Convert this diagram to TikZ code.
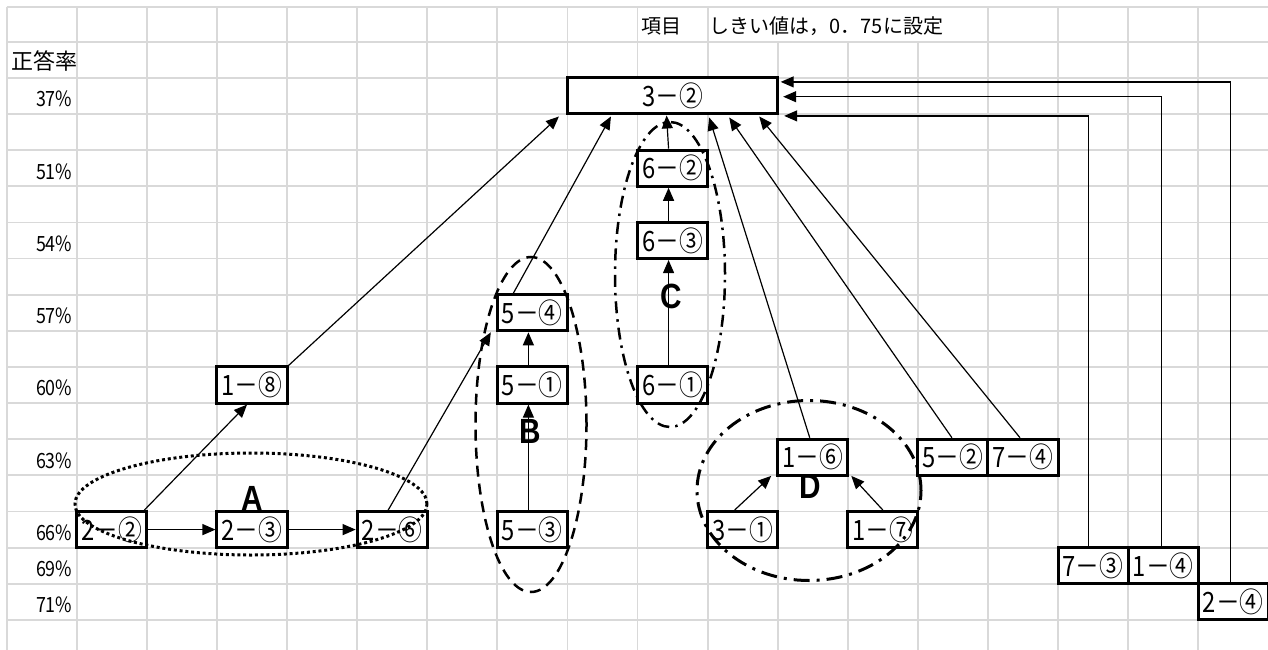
\documentclass[tikz,border=0pt]{standalone}
\usepackage{fontspec}
\usetikzlibrary{arrows.meta}
\newfontfamily\jpbox[FakeStretch=0.85]{Noto Sans CJK JP}
\newfontfamily\jpn{Noto Sans CJK JP}
\newfontfamily\labfont[FakeStretch=0.85]{Liberation Sans}
\definecolor{gridc}{RGB}{217,217,217}
\pgfdeclarelayer{bg}
\pgfdeclarelayer{fg}
\pgfsetlayers{bg,main,fg}
\tikzset{
  cellbox/.style={draw=black, line width=3pt, fill=white, minimum width=70.09pt, minimum height=36.14pt, inner sep=0pt, font=\jpbox\fontsize{28}{28}\selectfont},
  conn/.style={line width=1.2pt, -{Triangle[length=13pt,width=11pt]}},
  pct/.style={anchor=base east, inner sep=0pt, font=\jpbox\fontsize{21}{21}\selectfont},
  grp/.style={inner sep=0pt, font=\labfont\bfseries\fontsize{35}{35}\selectfont},
  gridline/.style={draw=gridc, line width=1.8pt},
  toptext/.style={anchor=west, inner sep=0pt, font=\jpn\fontsize{20}{20}\selectfont},
}
\begin{document}
\begin{tikzpicture}[x=1pt,y=-1pt]
\useasboundingbox (0,0) rectangle (1268,650);
\begin{pgfonlayer}{bg}
\fill[white] (0,0) rectangle (1268,650);
\foreach \k in {0,...,17} { \draw[gridline] (6.7+70.09*\k,7.3) -- (6.7+70.09*\k,650); }
\draw[gridline] (6.7,7.3) -- (1268,7.3);
\foreach \k in {1,...,17} { \draw[gridline] (6.7,5.56+36.14*\k) -- (1268,5.56+36.14*\k); }
\fill[white] (708.6,8.3) rectangle (987,40.7);
\node[toptext] (t1) at (641,26.5) {項目};
\node[toptext] (t2) at (709.5,26.5) {しきい値は，0．75に設定};
\node[anchor=west, inner sep=0pt, font=\jpn\fontsize{22}{22}\selectfont] (hd) at (11,61) {正答率};
\node[pct] (p37) at (72.5,106.78) {37\%};
\node[pct] (p51) at (72.5,179.06) {51\%};
\node[pct] (p54) at (72.5,251.34) {54\%};
\node[pct] (p57) at (72.5,323.62) {57\%};
\node[pct] (p60) at (72.5,395.9) {60\%};
\node[pct] (p63) at (72.5,468.18) {63\%};
\node[pct] (p66) at (72.5,540.46) {66\%};
\node[pct] (p69) at (72.5,576.6) {69\%};
\node[pct] (p71) at (72.5,612.74) {71\%};
\end{pgfonlayer}

% boxes
\node[cellbox, minimum width=210.27pt] (b32) at (672.56,95.91) {3－②};
\node[cellbox] (b18) at (252.02,385.03) {1－⑧};
\node[cellbox] (b22) at (111.84,529.59) {2－②};
\node[cellbox] (b23) at (252.02,529.59) {2－③};
\node[cellbox] (b26) at (392.2,529.59) {2－⑥};
\node[cellbox] (b54) at (532.38,312.75) {5－④};
\node[cellbox] (b51) at (532.38,385.03) {5－①};
\node[cellbox] (b53) at (532.38,529.59) {5－③};
\node[cellbox] (b62) at (672.56,168.19) {6－②};
\node[cellbox] (b63) at (672.56,240.47) {6－③};
\node[cellbox] (b61) at (672.56,385.03) {6－①};
\node[cellbox] (b16) at (812.74,457.31) {1－⑥};
\node[cellbox] (b31) at (742.65,529.59) {3－①};
\node[cellbox] (b17) at (882.83,529.59) {1－⑦};
\node[cellbox] (b52) at (952.92,457.31) {5－②};
\node[cellbox] (b74) at (1023.01,457.31) {7－④};
\node[cellbox] (b73) at (1093.1,565.73) {7－③};
\node[cellbox] (b14) at (1163.19,565.73) {1－④};
\node[cellbox] (b24) at (1233.28,601.87) {2－④};

\begin{pgfonlayer}{bg}
\draw[conn] (b22.east) -- (b23.west);
\draw[conn] (b23.east) -- (b26.west);
\draw[conn] ([xshift=-4pt]b22.north east) -- ([xshift=-5pt]b18.south);
\draw[conn] (b18.north east) -- ([xshift=-7pt,yshift=-1pt]b32.south west);
\draw[conn] ([xshift=-4pt]b26.north) -- ([xshift=-5pt]b54.south west);
\draw[conn] ([xshift=-19pt]b54.north) -- ([xshift=45pt,yshift=-1pt]b32.south west);
\draw[conn] ([xshift=-4pt]b53.north) -- ([xshift=-4pt]b51.south);
\draw[conn] ([xshift=-4pt]b51.north) -- ([xshift=-4pt]b54.south);
\draw[conn] ([xshift=-4pt]b61.north) -- ([xshift=-4pt]b63.south);
\draw[conn] ([xshift=-4pt]b63.north) -- ([xshift=-4pt]b62.south);
\draw[conn] ([xshift=-4pt]b62.north) -- ([xshift=-6pt]b32.south);
\draw[conn] ([xshift=-3pt]b16.north) -- ([xshift=-70pt,yshift=-2pt]b32.south east);
\draw[conn] ([xshift=-1pt]b52.north) -- ([xshift=-50pt,yshift=-2pt]b32.south east);
\draw[conn] ([xshift=-3pt]b74.north) -- ([xshift=-20pt,yshift=-1pt]b32.south east);
\draw[conn] ([xshift=-8pt]b31.north) -- ([xshift=-5pt,yshift=1pt]b16.south west);
\draw[conn] (b17.north) -- ([xshift=2pt,yshift=1pt]b16.south east);
\draw[conn] ([xshift=-5pt]b73.north) |- ([xshift=5pt,yshift=-20pt]b32.east);
\draw[conn] ([xshift=-1.5pt]b14.north) |- ([xshift=4pt,yshift=-0.8pt]b32.east);
\draw[conn] ([xshift=-3pt]b24.north) |- ([xshift=1.5pt,yshift=14pt]b32.east);
\node[grp] (lA) at (252,498) {A};
\node[grp] (lB) at (530,431.5) {B};
\node[grp] (lC) at (671,296.5) {C};
\node[grp] (lD) at (810,486) {D};
\end{pgfonlayer}

\begin{pgfonlayer}{fg}
\draw[line width=3pt, dash pattern=on 3pt off 2.8pt] (251,504) ellipse [x radius=176pt, y radius=51pt];
\draw[line width=2.5pt, dash pattern=on 11pt off 7pt] (531,424.5) ellipse [x radius=55.5pt, y radius=167.5pt];
\draw[line width=2.5pt, dash pattern=on 12pt off 6pt on 2.5pt off 6pt] (670,274.5) ellipse [x radius=55pt, y radius=152.5pt];
\draw[line width=3pt, dash pattern=on 16pt off 7pt on 3pt off 7pt] (809,490.5) ellipse [x radius=112pt, y radius=90pt];
\end{pgfonlayer}
\end{tikzpicture}
\end{document}
